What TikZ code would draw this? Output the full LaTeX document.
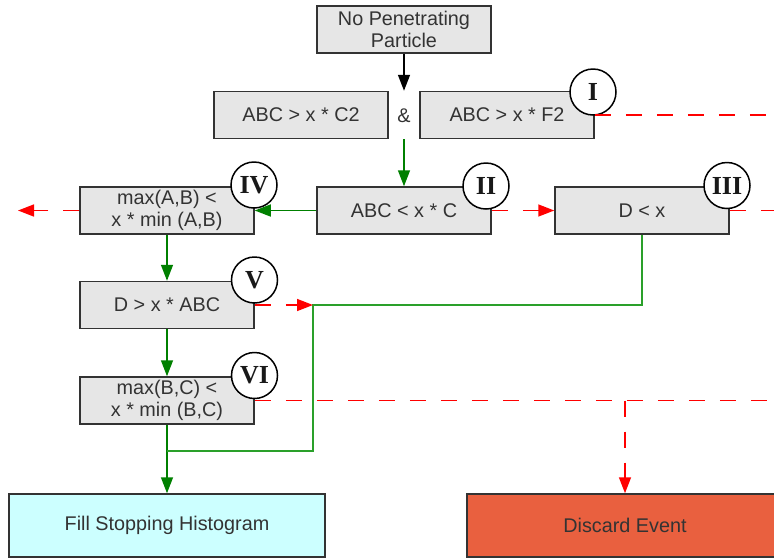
\documentclass[tikz,border=0pt]{standalone}
\usepackage{fontspec}
\setmainfont{Liberation Sans}
\newfontfamily\numfont{Liberation Serif}
\usetikzlibrary{arrows.meta}
\definecolor{boxgray}{HTML}{E6E6E6}
\definecolor{edgegray}{HTML}{333333}
\definecolor{txtgray}{HTML}{333333}
\definecolor{flowgreen}{HTML}{008000}
\definecolor{loopgreen}{HTML}{2AA02A}
\definecolor{dashred}{HTML}{FF0000}
\definecolor{fillcyan}{HTML}{CCFFFF}
\definecolor{discardred}{HTML}{E9603F}
\begin{document}
\begin{tikzpicture}[x=1pt,y=-1pt,
  cond/.style={draw=edgegray, fill=boxgray, line width=1.5pt, minimum width=174pt,
    minimum height=47pt, inner sep=0pt, align=center, text=txtgray,
    font=\fontsize{19.8}{22}\selectfont},
  endbox/.style={cond, minimum width=316pt, minimum height=63pt},
  tag/.style={circle, draw=black, fill=white, line width=1.5pt, minimum size=46pt,
    inner sep=0pt, text=black!90, font=\numfont\bfseries\fontsize{26}{26}\selectfont},
  arr/.style={-{Triangle[length=16pt,width=12pt]}},
  yes/.style={draw=flowgreen, line width=1.5pt},
  loopline/.style={draw=loopgreen, line width=1.5pt},
  nope/.style={draw=dashred, line width=1.5pt, dash pattern=on 16pt off 15pt},
]
\clip (0,0) rectangle (774,558);
\useasboundingbox (0,0) rectangle (774,558);

% boxes
\node[cond] (npp) at (404,29.5) {No Penetrating\\Particle};
\node[cond] (c2) at (301,115) {ABC > x * C2};
\node[cond] (f2) at (507,115) {ABC > x * F2};
\node[text=txtgray, font=\fontsize{19.8}{22}\selectfont] (amp) at (404,116) {\&};
\node[cond] (abc) at (404,210.5) {ABC < x * C};
\node[cond] (dx) at (642,210.5) {D < x};
\node[cond] (mab) at (167,210.5) {max(A,B) <\\x * min (A,B)};
\node[cond] (dabc) at (167,305) {D > x * ABC};
\node[cond] (mbc) at (167,400.5) {max(B,C) <\\x * min (B,C)};
\node[endbox, fill=fillcyan] (fill) at (167,525.5) {Fill Stopping Histogram};
\node[endbox, fill=discardred] (disc) at (625,525.5) {Discard Event};

% tags
\node[tag] (tI) at (593,92) {I};
\node[tag] (tII) at (486,186) {II};
\node[tag] (tIII) at (727,185.5) {III};
\node[tag] (tIV) at (254,185) {IV};
\node[tag] (tV) at (254.5,280) {V};
\node[tag] (tVI) at (254.5,375.5) {VI};

% free ends
\coordinate (r1) at (774,115);
\coordinate (r2) at (774,210.5);
\coordinate (r3) at (774,400.5);
\coordinate (l2) at (18,210.5);
\coordinate (join) at (313,305);
\coordinate (merge) at (167,451);
\coordinate (split) at (625,400.5);

% connectors
\draw[arr, black, line width=1.5pt] (npp.south) -- (npp.south |- c2.north);
\draw[yes, arr] (npp.south |- c2.south) -- (abc.north);
\draw[yes, arr] (abc.west) -- (mab.east);
\draw[yes, arr] (mab.south) -- (dabc.north);
\draw[yes, arr] (dabc.south) -- (mbc.north);
\draw[yes, arr] (mbc.south) -- (fill.north);
\draw[loopline] (dx.south) |- (join) |- (merge);

\draw[nope] (f2.east) -- (r1);
\draw[nope, arr] (abc.east) -- (dx.west);
\draw[nope] (dx.east) -- (r2);
\draw[nope, arr] (mab.west) -- (l2);
\draw[nope, arr] (dabc.east) -- (join);
\draw[nope] (mbc.east) -- (r3);
\draw[nope, arr] (split) -- (disc.north);
\end{tikzpicture}
\end{document}
